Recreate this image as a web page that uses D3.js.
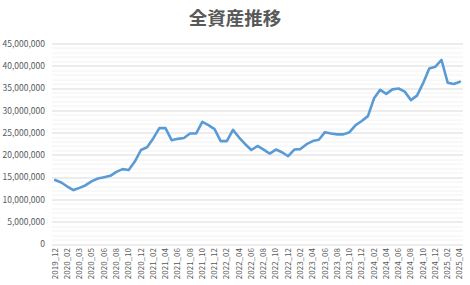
<!DOCTYPE html>
<html>
<head>
<meta charset="utf-8">
<script src="https://cdn.jsdelivr.net/npm/d3@7"></script>
<style>
  body { margin: 0; background: #fff; }
  svg { display: block; }
</style>
</head>
<body>
<div id="wrapper"></div>
<script>
// categories (every other one is shown on the axis)
const months = [
  '2019_12', '2020_01', '2020_02', '2020_02', '2020_03', '2020_04', '2020_05', '2020_05',
  '2020_06', '2020_07', '2020_08', '2020_09', '2020_10', '2020_11', '2020_12',
  '2021_01', '2021_02', '2021_03', '2021_04', '2021_05', '2021_06', '2021_07', '2021_08',
  '2021_09', '2021_10', '2021_11', '2021_12',
  '2022_01', '2022_02', '2022_03', '2022_04', '2022_05', '2022_06', '2022_07', '2022_08',
  '2022_09', '2022_10', '2022_11', '2022_12',
  '2023_01', '2023_02', '2023_03', '2023_04', '2023_05', '2023_06', '2023_07', '2023_08',
  '2023_09', '2023_10', '2023_11', '2023_12',
  '2024_01', '2024_02', '2024_03', '2024_04', '2024_05', '2024_06', '2024_07', '2024_08',
  '2024_09', '2024_10', '2024_11', '2024_12',
  '2025_01', '2025_02', '2025_03', '2025_04'
]

// total assets (yen)
const totalAssets = [
  14.36, 13.8, 12.9, 12.1, 12.6, 13.2, 14.1, 14.7, 15.0, 15.3, 16.2, 16.8, 16.6, 18.5,
  21.1, 21.7, 23.7, 26.0, 26.0, 23.3, 23.6, 23.8, 24.8, 24.8, 27.4, 26.7, 25.8, 23.1,
  23.1, 25.6, 23.9, 22.4, 21.1, 22.0, 21.2, 20.3, 21.2, 20.6, 19.7, 21.2, 21.3, 22.4,
  23.1, 23.4, 25.1, 24.8, 24.6, 24.6, 25.1, 26.7, 27.6, 28.7, 32.7, 34.6, 33.7, 34.7,
  34.9, 34.2, 32.3, 33.3, 36.1, 39.4, 39.8, 41.3, 36.2, 35.9, 36.4
].map(v => v * 1e6)

const yTicks = [0, 5e6, 10e6, 15e6, 20e6, 25e6, 30e6, 35e6, 40e6, 45e6]
const minorTicks = d3.range(0, 45e6 + 1, 1e6)

const title = '全資産推移'

let dimensions = {
  width: 470,
  height: 285,
  margin: { top: 43.5, right: 7, bottom: 41, left: 52 }
}
dimensions.boundedWidth = dimensions.width - dimensions.margin.left - dimensions.margin.right
dimensions.boundedHeight = dimensions.height - dimensions.margin.top - dimensions.margin.bottom

const fontFamily = '"Noto Sans CJK JP", "Noto Sans", sans-serif'
const textColor = '#595959'

function drawChart () {
  const svg = d3.select('#wrapper').append('svg')
    .attr('width', dimensions.width)
    .attr('height', dimensions.height)

  svg.append('text')
    .attr('x', 235)
    .attr('y', 25)
    .attr('text-anchor', 'middle')
    .attr('font-family', fontFamily)
    .attr('font-size', 18.5)
    .attr('font-weight', 700)
    .attr('fill', textColor)
    .text(title)

  const bounds = svg.append('g')
    .attr('transform', `translate(${dimensions.margin.left}, ${dimensions.margin.top})`)

  const xScale = d3.scaleBand()
    .domain(d3.range(months.length))
    .range([0, dimensions.boundedWidth])

  const yScale = d3.scaleLinear()
    .domain([0, 45e6])
    .range([dimensions.boundedHeight, 0])

  // minor gridlines
  bounds.append('g')
    .selectAll('line')
    .data(minorTicks.filter(t => t % 5e6 !== 0))
    .join('line')
    .attr('x1', 0)
    .attr('x2', dimensions.boundedWidth)
    .attr('y1', d => Math.round(yScale(d)) + 0.5)
    .attr('y2', d => Math.round(yScale(d)) + 0.5)
    .attr('stroke', '#f2f2f2')
    .attr('stroke-width', 1)

  // major gridlines
  bounds.append('g')
    .selectAll('line')
    .data(yTicks)
    .join('line')
    .attr('x1', 0)
    .attr('x2', dimensions.boundedWidth)
    .attr('y1', d => Math.round(yScale(d)) + 0.5)
    .attr('y2', d => Math.round(yScale(d)) + 0.5)
    .attr('stroke', '#d9d9d9')
    .attr('stroke-width', 1)

  // y axis
  const yAxis = bounds.append('g')
    .call(d3.axisLeft(yScale)
      .tickValues(yTicks)
      .tickSize(0)
      .tickPadding(7)
      .tickFormat(d => d3.format(',')(d)))
  yAxis.select('.domain').remove()
  yAxis.selectAll('text')
    .attr('font-family', fontFamily)
    .attr('font-size', 8.5)
    .attr('fill', textColor)

  // x axis
  const xAxis = bounds.append('g')
    .attr('transform', `translate(0, ${dimensions.boundedHeight})`)
    .call(d3.axisBottom(xScale)
      .tickValues(d3.range(0, months.length, 2))
      .tickSize(0)
      .tickFormat(i => months[i]))
  xAxis.select('.domain').remove()
  xAxis.selectAll('text')
    .attr('font-family', fontFamily)
    .attr('font-size', 8)
    .attr('fill', textColor)
    .attr('text-anchor', 'end')
    .attr('transform', 'translate(0, 4) rotate(-90)')
    .attr('x', 0)
    .attr('y', 0)
    .attr('dy', '0.32em')

  const lineGenerator = d3.line()
    .x((d, i) => xScale(i) + xScale.bandwidth() / 2)
    .y(d => yScale(d))

  bounds.append('path')
    .attr('d', lineGenerator(totalAssets))
    .attr('fill', 'none')
    .attr('stroke', '#5b9bd5')
    .attr('stroke-width', 2.6)
    .attr('stroke-linejoin', 'round')
    .attr('stroke-linecap', 'round')
}

drawChart()
</script>
</body>
</html>
